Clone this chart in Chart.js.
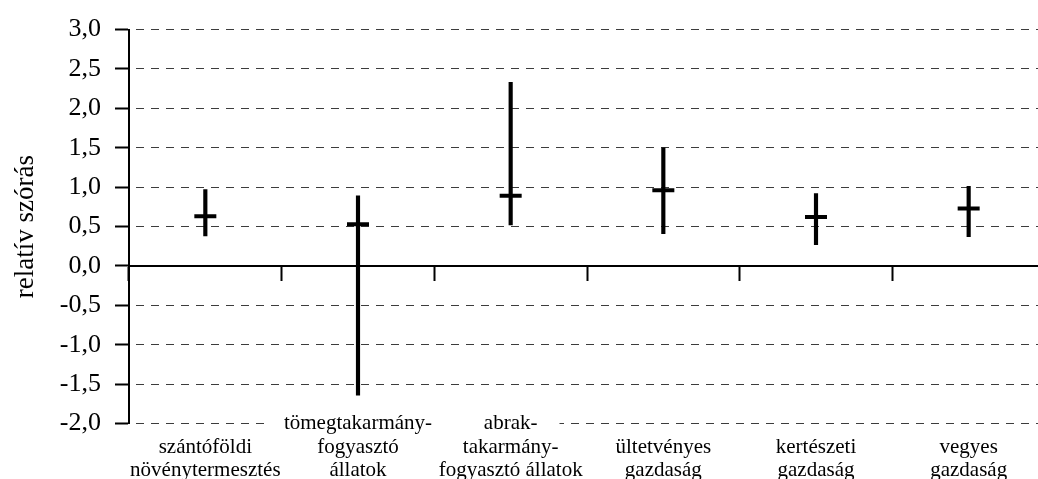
<!DOCTYPE html>
<html lang="hu">
<head>
<meta charset="utf-8">
<title>Relatív szórás gazdaságtípusonként</title>
<script src="https://cdn.jsdelivr.net/npm/chart.js@4/dist/chart.umd.min.js"></script>
<style>
  html, body { margin: 0; padding: 0; background: #fff; overflow: hidden; }
  #wrap { position: relative; width: 1045px; height: 479px; }
</style>
</head>
<body>
<div id="wrap"><canvas id="c"></canvas></div>
<script>
// Farm types, one array of text lines per category
const categories = [
  ['szántóföldi', 'növénytermesztés'],
  ['tömegtakarmány-', 'fogyasztó', 'állatok'],
  ['abrak-', 'takarmány-', 'fogyasztó állatok'],
  ['ültetvényes', 'gazdaság'],
  ['kertészeti', 'gazdaság'],
  ['vegyes', 'gazdaság']
];

// Lower and upper end of each range, and the central value
const lowValues  = [0.38, -1.64, 0.52, 0.41, 0.27, 0.37];
const highValues = [0.97,  0.89, 2.33, 1.50, 0.92, 1.01];
const meanValues = [0.63,  0.53, 0.89, 0.96, 0.62, 0.73];

// Value axis
const yMin = -2;
const yMax = 3;
const yStep = 0.5;
const yTitle = 'relatív szórás';

const serif = "'Liberation Serif', 'Times New Roman', serif";
const ranges = categories.map((_, i) => [lowValues[i], highValues[i]]);

// Three-line labels start one row higher, level with the bottom gridline.
// Each such first row sits on its own axis with a white backdrop that
// hides the gridline behind the label block.
const bodyLabels = categories.map((l) => l.slice(-2));
const headLabelsFor = (idx) => categories.map((l, i) => (i === idx && l.length === 3 ? l[0] : ''));

const noSidePadding = (s) => { s.paddingLeft = 0; s.paddingRight = 0; };

const headAxis = (idx, padLeft, padRight) => ({
  axis: 'x',
  type: 'category',
  labels: headLabelsFor(idx),
  position: { y: yMin },
  offset: true,
  grid: { display: false, drawTicks: false },
  border: { display: false },
  ticks: {
    color: '#000',
    font: { family: serif, size: 21, lineHeight: 1.1 },
    padding: -11.5,
    maxRotation: 0,
    minRotation: 0,
    autoSkip: false,
    showLabelBackdrop: (ctx) => ctx.index === idx,
    backdropColor: '#fff',
    backdropPadding: { top: 0, bottom: 0, left: padLeft, right: padRight }
  },
  afterFit: noSidePadding
});

new Chart(document.getElementById('c'), {
  type: 'bar',
  data: {
    labels: bodyLabels,
    datasets: [
      {
        type: 'line',
        data: meanValues,
        showLine: false,
        pointStyle: 'line',
        pointRadius: 11,
        pointHoverRadius: 11,
        pointBorderWidth: 4,
        pointBorderColor: '#000',
        pointBackgroundColor: '#000',
        order: 1
      },
      {
        type: 'bar',
        data: ranges,
        backgroundColor: '#000',
        borderWidth: 0,
        barThickness: 3.5,
        order: 2
      }
    ]
  },
  options: {
    responsive: true,
    maintainAspectRatio: false,
    animation: false,
    events: [],
    layout: { autoPadding: false, padding: { top: 27, right: 0, bottom: 0, left: 0 } },
    plugins: {
      legend: { display: false },
      tooltip: { enabled: false }
    },
    scales: {
      x: {
        type: 'category',
        position: 'bottom',
        offset: true,
        grid: { display: false, drawTicks: false },
        border: { display: false },
        ticks: {
          color: '#000',
          font: { family: serif, size: 21, lineHeight: 1.1 },
          padding: 12,
          maxRotation: 0,
          minRotation: 0,
          autoSkip: false
        },
        afterFit: (s) => { s.height = 55.5; noSidePadding(s); }
      },
      xHead1: headAxis(1, 17, 30),
      xHead2: headAxis(2, 30, 22),
      xZero: {
        axis: 'x',
        type: 'category',
        position: { y: 0 },
        offset: true,
        grid: {
          offset: true,
          drawOnChartArea: false,
          drawTicks: true,
          tickLength: 14,
          tickWidth: 2,
          tickColor: '#000',
          color: '#000'
        },
        border: { display: true, color: '#000', width: 2 },
        ticks: { display: false },
        afterFit: noSidePadding
      },
      y: {
        type: 'linear',
        position: 'left',
        min: yMin,
        max: yMax,
        ticks: {
          stepSize: yStep,
          color: '#000',
          font: { family: serif, size: 26 },
          padding: 14,
          callback: (v) => Number(v).toFixed(1).replace('.', ',')
        },
        grid: {
          color: '#3c3c3c',
          lineWidth: 1,
          drawTicks: true,
          tickLength: 14,
          tickWidth: 2,
          tickColor: '#000'
        },
        border: { display: true, color: '#000', width: 2, dash: [8, 7], dashOffset: 9 },
        title: {
          display: true,
          text: yTitle,
          color: '#000',
          font: { family: serif, size: 27 },
          padding: { top: 10, bottom: 0 }
        },
        afterFit: (s) => { s.width = 129; }
      }
    }
  }
});
</script>
</body>
</html>
